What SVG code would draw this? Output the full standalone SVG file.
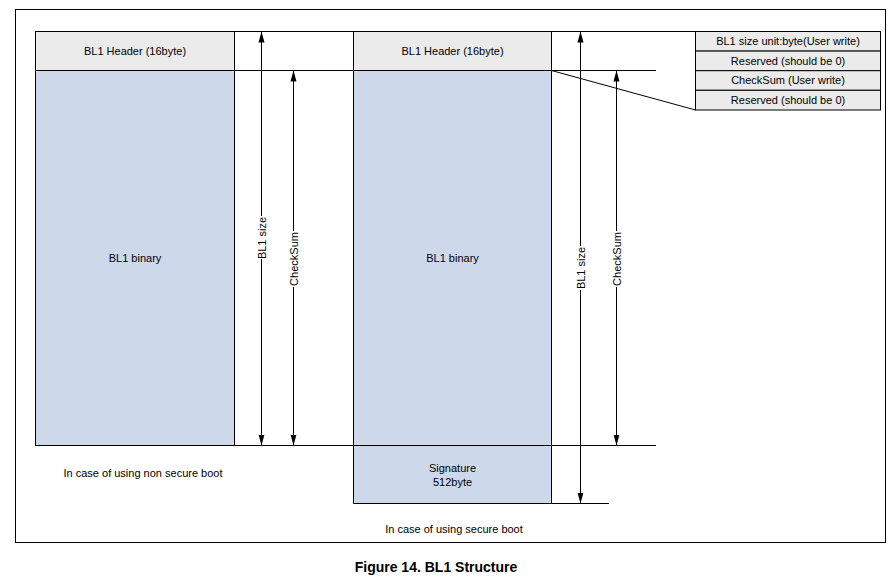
<svg xmlns="http://www.w3.org/2000/svg" width="894" height="583" viewBox="0 0 894 583">
<style>
  .t{font-family:"Liberation Sans",Arial,sans-serif;font-size:11px;fill:#000;text-anchor:middle}
  .cap{font-family:"Liberation Sans",Arial,sans-serif;font-size:14px;font-weight:bold;fill:#000;text-anchor:middle}
  .hdr{fill:#ebebeb;stroke:#000;stroke-width:1}
  .bin{fill:#cdd9ea;stroke:#000;stroke-width:1}
  .ln{stroke:#000;stroke-width:1;fill:none}
  .ar{stroke:#000;stroke-width:1;fill:none;marker-start:url(#ah);marker-end:url(#ah)}
  .ar1{stroke:#000;stroke-width:1;fill:none}
</style>
<defs>
  <marker id="ah" markerUnits="userSpaceOnUse" markerWidth="11" markerHeight="7" refX="11" refY="3.5" orient="auto-start-reverse">
    <path d="M0,0.5 L11,3.5 L0,6.5 z" fill="#000"/>
  </marker>
  <marker id="ahe" markerUnits="userSpaceOnUse" markerWidth="11" markerHeight="7" refX="11" refY="3.5" orient="auto">
    <path d="M0,0.5 L11,3.5 L0,6.5 z" fill="#000"/>
  </marker>
  <marker id="ahs" markerUnits="userSpaceOnUse" markerWidth="11" markerHeight="7" refX="11" refY="3.5" orient="auto-start-reverse">
    <path d="M0,0.5 L11,3.5 L0,6.5 z" fill="#000"/>
  </marker>
</defs>
<rect x="0" y="0" width="894" height="583" fill="#fff"/>
<rect id="frame" x="15.5" y="9.5" width="870" height="533" class="ln"/>

<g id="left-column">
  <rect class="hdr" x="35.5" y="31.5" width="199" height="39"/>
  <text class="t" x="135" y="55">BL1 Header (16byte)</text>
  <rect class="bin" x="35.5" y="70.5" width="199" height="375"/>
  <text class="t" x="135" y="262">BL1 binary</text>
</g>

<g id="right-column">
  <rect class="hdr" x="353.5" y="31.5" width="198" height="39"/>
  <text class="t" x="452.5" y="55">BL1 Header (16byte)</text>
  <rect class="bin" x="353.5" y="70.5" width="198" height="375"/>
  <text class="t" x="452.5" y="262">BL1 binary</text>
</g>

<g id="signature">
  <rect class="bin" x="353.5" y="445.5" width="198" height="58"/>
  <text class="t" x="452.5" y="472">Signature</text>
  <text class="t" x="452.5" y="486">512byte</text>
</g>

<g id="header-table">
  <rect class="hdr" x="695.5" y="31.5" width="185" height="19.6"/>
  <rect class="hdr" x="695.5" y="51.1" width="185" height="19.6"/>
  <rect class="hdr" x="695.5" y="70.7" width="185" height="19.6"/>
  <rect class="hdr" x="695.5" y="90.3" width="185" height="19.7"/>
  <text class="t" x="788" y="45">BL1 size unit:byte(User write)</text>
  <text class="t" x="788" y="64.6">Reserved (should be 0)</text>
  <text class="t" x="788" y="84.2">CheckSum (User write)</text>
  <text class="t" x="788" y="103.8">Reserved (should be 0)</text>
</g>

<g id="connectors">
  <line class="ln" x1="234.5" y1="31.5" x2="353.5" y2="31.5"/>
  <line class="ln" x1="234.5" y1="70.5" x2="353.5" y2="70.5"/>
  <line class="ln" x1="234.5" y1="445.5" x2="656" y2="445.5"/>
  <line class="ln" x1="551.5" y1="31.5" x2="695.5" y2="31.5"/>
  <line class="ln" x1="551.5" y1="70.5" x2="656" y2="70.5"/>
  <line class="ln" x1="551.5" y1="503.5" x2="609" y2="503.5"/>
  <line class="ln" x1="551.5" y1="70.5" x2="695.5" y2="110"/>

  <!-- left BL1 size -->
  <line class="ar1" x1="261.5" y1="216" x2="261.5" y2="31.5" marker-end="url(#ahe)"/>
  <line class="ar1" x1="261.5" y1="259" x2="261.5" y2="445.5" marker-end="url(#ahe)"/>
  <!-- left CheckSum -->
  <line class="ar1" x1="293.5" y1="231" x2="293.5" y2="70.5" marker-end="url(#ahe)"/>
  <line class="ar1" x1="293.5" y1="287" x2="293.5" y2="445.5" marker-end="url(#ahe)"/>
  <!-- right BL1 size -->
  <line class="ar1" x1="580.5" y1="246" x2="580.5" y2="31.5" marker-end="url(#ahe)"/>
  <line class="ar1" x1="580.5" y1="290" x2="580.5" y2="503.5" marker-end="url(#ahe)"/>
  <!-- right CheckSum -->
  <line class="ar1" x1="616.5" y1="231" x2="616.5" y2="70.5" marker-end="url(#ahe)"/>
  <line class="ar1" x1="616.5" y1="287" x2="616.5" y2="445.5" marker-end="url(#ahe)"/>
</g>

<g id="dimension-labels">
  <text class="t" transform="translate(265.5,238) rotate(-90)">BL1 size</text>
  <text class="t" transform="translate(297.5,259) rotate(-90)">CheckSum</text>
  <text class="t" transform="translate(584.5,268) rotate(-90)">BL1 size</text>
  <text class="t" transform="translate(620.5,259) rotate(-90)">CheckSum</text>
</g>

<g id="captions">
  <text class="t" x="143" y="477">In case of using non secure boot</text>
  <text class="t" x="454" y="533">In case of using secure boot</text>
  <text class="cap" x="436" y="572">Figure 14. BL1 Structure</text>
</g>
</svg>
